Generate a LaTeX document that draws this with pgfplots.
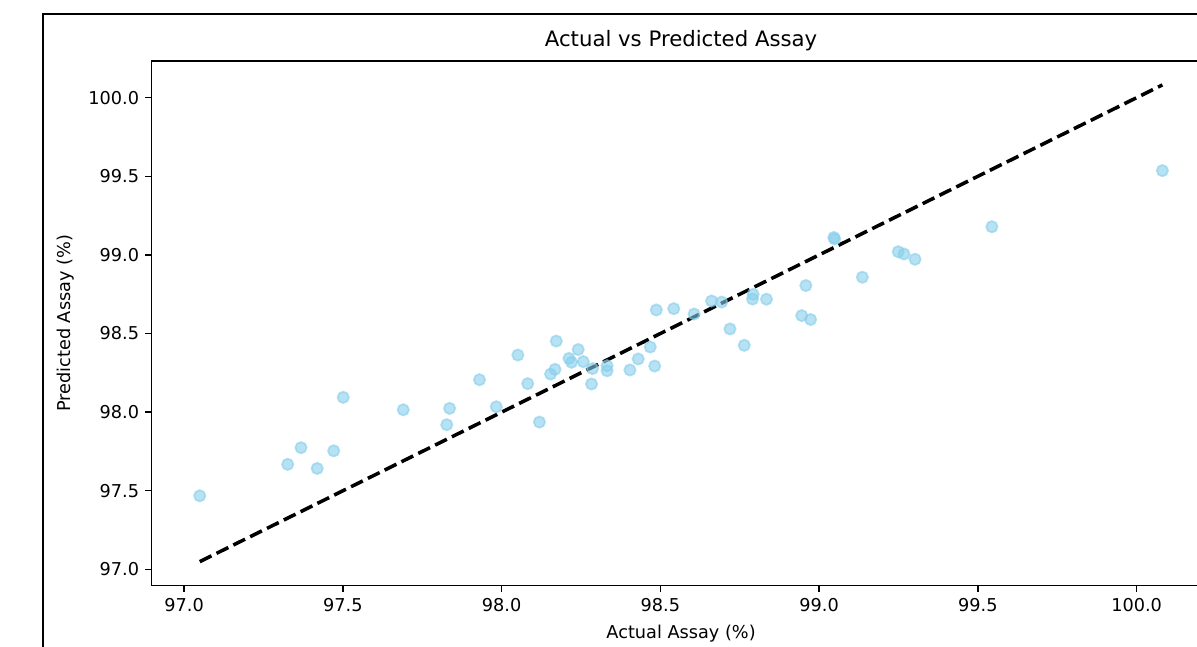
\documentclass[border=0pt]{standalone}
\usepackage{fontspec}
\setmainfont{DejaVu Sans}
\usepackage{pgfplots}
\pgfplotsset{compat=1.18}
\definecolor{skyblue}{HTML}{87CEEB}
\pgfplotstableread{
x y
97.049 97.468
97.326 97.668
97.368 97.774
97.419 97.642
97.471 97.754
97.501 98.094
97.690 98.015
97.836 98.024
97.827 97.920
97.930 98.206
97.983 98.034
98.051 98.363
98.082 98.181
98.119 97.937
98.172 98.452
98.154 98.242
98.168 98.272
98.212 98.342
98.220 98.317
98.241 98.398
98.257 98.321
98.286 98.277
98.283 98.179
98.332 98.295
98.332 98.263
98.404 98.268
98.430 98.338
98.468 98.414
98.482 98.293
98.487 98.650
98.542 98.658
98.606 98.624
98.661 98.707
98.693 98.700
98.719 98.529
98.764 98.425
98.792 98.749
98.790 98.719
98.834 98.718
98.945 98.614
98.973 98.589
98.958 98.805
99.046 99.111
99.049 99.101
99.136 98.858
99.249 99.020
99.267 99.006
99.302 98.972
99.544 99.179
100.081 99.536
}\pts
\begin{document}
\begin{tikzpicture}
\path[use as bounding box] (0,0) rectangle (676.305pt,364.99pt);
\clip (0,0) rectangle (676.305pt,364.99pt);
\draw[line width=0.9pt] (24.3pt,-20pt) rectangle (720pt,357.08pt);
\begin{axis}[
  at={(85.65pt,34.18pt)}, anchor=south west,
  scale only axis, width=598.3pt, height=296.3pt,
  xmin=96.8974, xmax=100.2326, ymin=96.8974, ymax=100.2326,
  xtick={97,97.5,98,98.5,99,99.5,100},
  ytick={97,97.5,98,98.5,99,99.5,100},
  xtick pos=bottom, ytick pos=left,
  tick align=outside, major tick length=3.5pt,
  tick style={line width=0.8pt, black},
  axis line style={line width=0.8pt},
  scaled ticks=false,
  /pgf/number format/.cd, fixed, fixed zerofill, precision=1, assume math mode=true,
  /pgfplots/.cd,
  ticklabel style={font=\fontsize{10}{12}\selectfont},
  title={Actual vs Predicted Assay},
  title style={font=\fontsize{12}{14}\selectfont, at={(axis description cs:0.5,1.0273)}, anchor=base, yshift=-6pt},
  xlabel={Actual Assay (\%)},
  xlabel style={font=\fontsize{10}{12}\selectfont, at={(axis description cs:0.5,-0.1007)}, anchor=base},
  ylabel={Predicted Assay (\%)},
  ylabel style={font=\fontsize{10}{12}\selectfont, at={(axis description cs:-0.0762,0.5)}, anchor=base, rotate=0},
]
\addplot[only marks, mark=*, mark size=3.2pt, mark options={fill=skyblue, draw=skyblue, line width=1pt, fill opacity=0.6, draw opacity=0.6}] table[x=x,y=y] {\pts};
\addplot[black, line width=2pt, dash pattern=on 7.4pt off 3.2pt] coordinates {(97.049,97.049) (100.081,100.081)};
\end{axis}
\end{tikzpicture}
\end{document}
